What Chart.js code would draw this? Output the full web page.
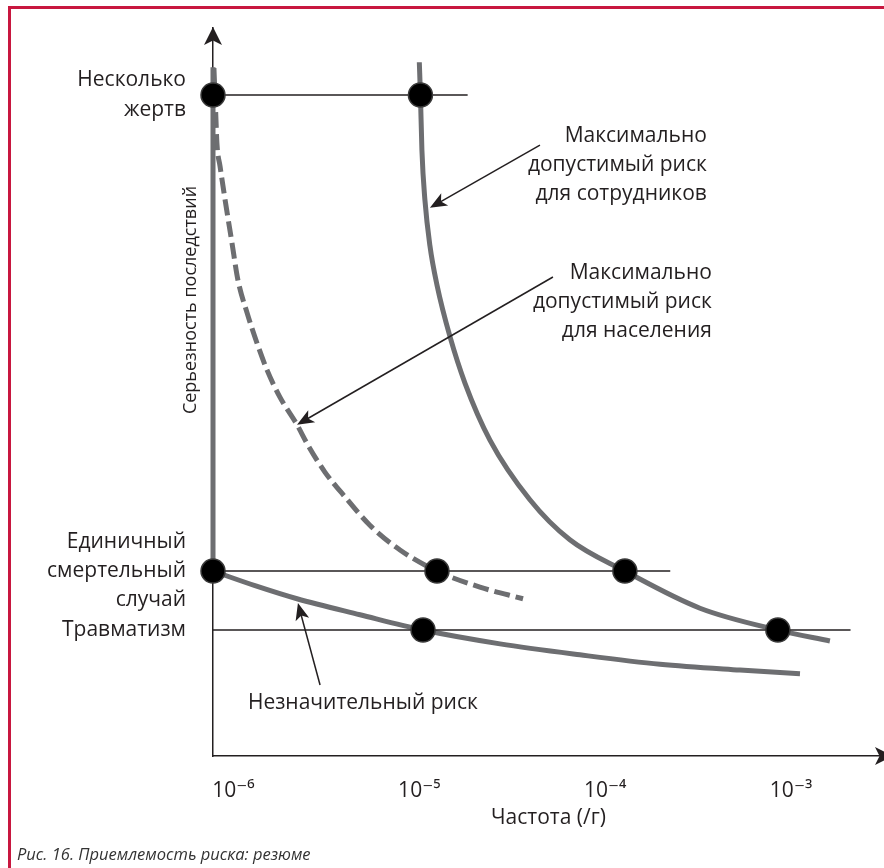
<!DOCTYPE html>
<html lang="ru">
<head>
<meta charset="utf-8">
<style>
  html, body { margin: 0; padding: 0; background: #fff; }
  #wrap { position: relative; width: 884px; height: 868px; overflow: hidden; }
  #frame { position: absolute; left: 8px; top: 6px; width: 1000px; height: 1000px;
           border-top: 3px solid #c8173f; border-left: 3px solid #c8173f; box-sizing: border-box; }
  #chart { position: absolute; left: 0; top: 0; }
  #caption { position: absolute; left: 17px; top: 842px; font: italic 16.5px 'Open Sans', sans-serif; color: #333; }
</style>
<script src="https://cdn.jsdelivr.net/npm/chart.js@4.4.1/dist/chart.umd.min.js"></script>
</head>
<body>
<div id="wrap">
  <div id="frame"></div>
  <canvas id="chart" width="884" height="868"></canvas>
  <div id="caption">Рис. 16. Приемлемость риска: резюме</div>
</div>
<script>
// x = log10(частота), y = условная серьёзность (0..100)
const xMin = -6.11, xMax = -2.5;
const xTicks = [-6, -5, -4, -3];
const xTickLabels = ['10⁻⁶', '10⁻⁵', '10⁻⁴', '10⁻³'];

const levelValues = [17.3, 25.4, 90.8];
const levelLabels = [['Травматизм'], ['Единичный', 'смертельный', 'случай'], ['Несколько', 'жертв']];
const levelLineEnds = [-2.68, -3.65, -4.74];

// кривая: максимально допустимый риск для сотрудников
const curveStaff = [
  {x: -5.0, y: 95.3}, {x: -4.994, y: 90.8}, {x: -4.986, y: 83.2}, {x: -4.97, y: 76.4},
  {x: -4.943, y: 70.1}, {x: -4.905, y: 64.7}, {x: -4.835, y: 57.6}, {x: -4.754, y: 51.2},
  {x: -4.62, y: 43.4}, {x: -4.405, y: 35.2}, {x: -4.19, y: 29.7}, {x: -3.894, y: 25.4},
  {x: -3.49, y: 20.3}, {x: -3.071, y: 17.3}, {x: -2.791, y: 15.8}
];
// кривая: максимально допустимый риск для населения (пунктир)
const curvePublic = [
  {x: -6.105, y: 94.5}, {x: -6.094, y: 87.4}, {x: -6.089, y: 84.2}, {x: -6.072, y: 81.0},
  {x: -6.045, y: 76.4}, {x: -6.008, y: 70.5}, {x: -5.976, y: 65.4}, {x: -5.927, y: 60.9},
  {x: -5.873, y: 56.7}, {x: -5.819, y: 53.0}, {x: -5.75, y: 49.3}, {x: -5.658, y: 45.5},
  {x: -5.599, y: 42.7}, {x: -5.508, y: 39.0}, {x: -5.4, y: 35.6}, {x: -5.266, y: 31.7},
  {x: -5.104, y: 28.3}, {x: -4.905, y: 25.4}, {x: -4.674, y: 23.2}, {x: -4.442, y: 21.6}
];
// кривая: незначительный риск
const curveNegligible = [
  {x: -6.11, y: 25.4}, {x: -5.884, y: 23.4}, {x: -5.658, y: 21.6}, {x: -5.319, y: 19.4},
  {x: -4.98, y: 17.3}, {x: -4.566, y: 15.4}, {x: -4.136, y: 13.9}, {x: -3.705, y: 12.6},
  {x: -3.275, y: 11.8}, {x: -2.952, y: 11.3}
];
// граница 10^-6
const boundary = [{x: -6.11, y: 94.6}, {x: -6.11, y: 25.4}];

const markers = [
  {x: -6.11, y: 90.8}, {x: -4.994, y: 90.8},
  {x: -6.11, y: 25.4}, {x: -4.905, y: 25.4}, {x: -3.894, y: 25.4},
  {x: -4.98, y: 17.3}, {x: -3.071, y: 17.3}
];

const notes = [
  { lines: ['Максимально', 'допустимый риск', 'для сотрудников'], x: -3.453, y: 85.2, align: 'right',
    from: {x: -4.351, y: 83.9}, to: {x: -4.943, y: 75.3} },
  { lines: ['Максимально', 'допустимый риск', 'для населения'], x: -3.426, y: 66.3, align: 'right',
    from: {x: -4.281, y: 65.8}, to: {x: -5.658, y: 45.5} },
  { lines: ['Незначительный риск'], x: -5.922, y: 7.28, align: 'left',
    from: {x: -5.534, y: 9.75}, to: {x: -5.653, y: 21.0} }
];
const yTitle = 'Серьезность последствий';

const ink = '#231f20';
const gray = '#6d6e71';
Chart.defaults.font.family = "'Open Sans', 'DejaVu Sans', sans-serif";
Chart.defaults.color = ink;

function arrowHead(ctx, x1, y1, x2, y2, len, half) {
  const a = Math.atan2(y2 - y1, x2 - x1);
  const c = Math.cos(a), s = Math.sin(a);
  ctx.beginPath();
  ctx.moveTo(x2, y2);
  ctx.lineTo(x2 - len * c + half * s, y2 - len * s - half * c);
  ctx.lineTo(x2 - len * c * 0.75, y2 - len * s * 0.75);
  ctx.lineTo(x2 - len * c - half * s, y2 - len * s + half * c);
  ctx.closePath();
  ctx.fill();
}

const decor = {
  id: 'decor',
  afterDraw(chart) {
    const {ctx, chartArea: area, scales: {x, y}} = chart;
    ctx.save();
    ctx.fillStyle = ink;
    ctx.strokeStyle = ink;
    // стрелки осей
    arrowHead(ctx, area.left, area.bottom, area.left, area.top - 1, 18, 9);
    arrowHead(ctx, area.left, area.bottom, area.right + 9, area.bottom, 18, 9);

    // выноски
    ctx.lineWidth = 1.5;
    notes.forEach(n => {
      const x1 = x.getPixelForValue(n.from.x), y1 = y.getPixelForValue(n.from.y);
      const x2 = x.getPixelForValue(n.to.x), y2 = y.getPixelForValue(n.to.y);
      const a = Math.atan2(y2 - y1, x2 - x1);
      ctx.beginPath();
      ctx.moveTo(x1, y1);
      ctx.lineTo(x2 - Math.cos(a) * 12, y2 - Math.sin(a) * 12);
      ctx.stroke();
      arrowHead(ctx, x1, y1, x2, y2, 17, 7);

      ctx.font = "21px 'Open Sans', sans-serif";
      ctx.textAlign = n.align;
      ctx.textBaseline = 'middle';
      const tx = x.getPixelForValue(n.x);
      let ty = y.getPixelForValue(n.y);
      n.lines.forEach(line => { ctx.fillText(line, tx, ty); ty += 29; });
    });

    // подпись оси Y
    ctx.translate(area.left - 22, 300);
    ctx.rotate(-Math.PI / 2);
    ctx.font = "18px 'Open Sans', sans-serif";
    ctx.textAlign = 'center';
    ctx.textBaseline = 'middle';
    ctx.fillText(yTitle, 0, 0);
    ctx.restore();
  }
};

const curveStyle = { borderColor: gray, borderWidth: 5, pointRadius: 0, showLine: true, clip: false, order: 2,
  cubicInterpolationMode: 'monotone' };

const datasets = [
  { data: markers, type: 'scatter', pointRadius: 12, pointBackgroundColor: '#000',
    pointBorderColor: '#3a3a3a', pointBorderWidth: 1.5, showLine: false, clip: false, order: 0 },
  ...levelValues.map((v, i) => ({
    data: [{x: xMin, y: v}, {x: levelLineEnds[i], y: v}],
    borderColor: ink, borderWidth: 1.5, pointRadius: 0, showLine: true, clip: false, order: 1
  })),
  { ...curveStyle, data: boundary, cubicInterpolationMode: 'default', tension: 0 },
  { ...curveStyle, data: curveNegligible },
  { ...curveStyle, data: curveStaff },
  { ...curveStyle, data: curvePublic, borderDash: [16, 6] }
];

function noPadding(s) {
  s.paddingTop = 0; s.paddingBottom = 0; s.paddingLeft = 0; s.paddingRight = 0;
}

new Chart(document.getElementById('chart'), {
  type: 'line',
  data: { datasets },
  options: {
    responsive: false,
    animation: false,
    devicePixelRatio: 1,
    events: [],
    layout: { autoPadding: false, padding: { top: 28, left: 0, right: 0, bottom: 0 } },
    plugins: { legend: { display: false }, tooltip: { enabled: false } },
    scales: {
      x: {
        type: 'linear', min: xMin, max: xMax,
        grid: { display: false },
        border: { display: true, color: ink, width: 1.5 },
        afterFit: s => { s.height = 112; noPadding(s); },
        afterBuildTicks: s => { s.ticks = xTicks.map(v => ({ value: v })); },
        ticks: {
          padding: 14,
          font: { size: 21 },
          color: ink,
          callback: v => xTickLabels[xTicks.indexOf(v)]
        },
        title: { display: true, text: 'Частота (/г)', font: { size: 21 }, color: ink, padding: { bottom: 37 } }
      },
      y: {
        type: 'linear', min: 0, max: 100,
        grid: { display: false },
        border: { display: true, color: ink, width: 1.5 },
        afterFit: s => { s.width = 213; noPadding(s); },
        afterBuildTicks: s => { s.ticks = levelValues.map(v => ({ value: v })); },
        ticks: {
          padding: 19,
          font: { size: 21, lineHeight: 1.4 },
          color: ink,
          callback: v => levelLabels[levelValues.indexOf(v)]
        }
      }
    }
  },
  plugins: [decor]
});
</script>
</body>
</html>
